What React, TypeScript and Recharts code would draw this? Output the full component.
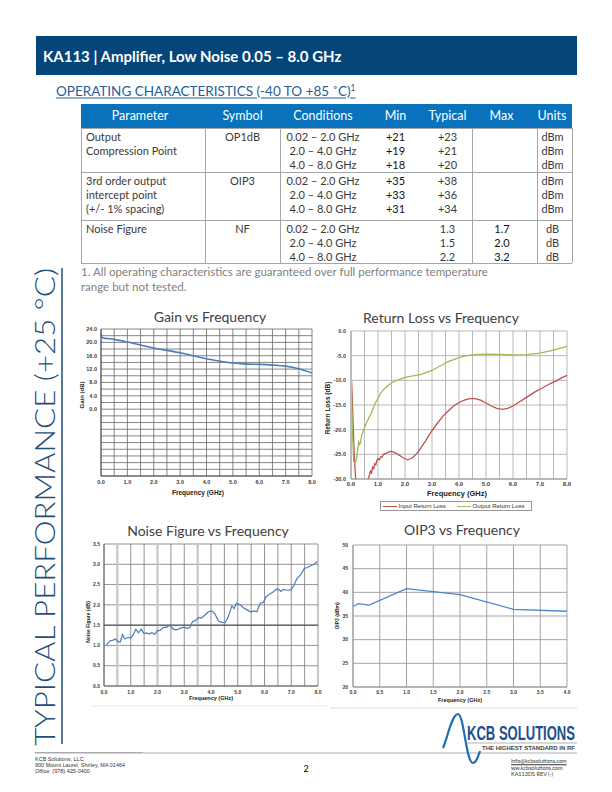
import React from 'react';
import { LineChart, Line, XAxis, YAxis, CartesianGrid, ReferenceLine } from 'recharts';

// ---------- Table data ----------
const tableHeaders = ['Parameter', 'Symbol', 'Conditions', 'Min', 'Typical', 'Max', 'Units'];
const paramNames = [['Output', 'Compression Point'], ['3rd order output', 'intercept point', '(+/- 1% spacing)'], ['Noise Figure']];
const paramSymbols = ['OP1dB', 'OIP3', 'NF'];
const conditions = ['0.02 – 2.0 GHz', '2.0 – 4.0 GHz', '4.0 – 8.0 GHz'];
const minVals = [['+21', '+19', '+18'], ['+35', '+33', '+31'], ['', '', '']];
const typVals = [['+23', '+21', '+20'], ['+38', '+36', '+34'], ['1.3', '1.5', '2.2']];
const maxVals = [['', '', ''], ['', '', ''], ['1.7', '2.0', '3.2']];
const unitVals = [['dBm', 'dBm', 'dBm'], ['dBm', 'dBm', 'dBm'], ['dB', 'dB', 'dB']];

// ---------- Gain ----------
const gainFreq = [0, 0.05, 0.5, 1.0, 1.5, 2.0, 2.5, 3.0, 3.5, 4.0, 4.5, 5.0, 5.5, 6.0, 6.5, 7.0, 7.5, 8.0];
const gainDb = [22.6, 21.4, 20.9, 20.1, 19.2, 18.3, 17.6, 16.9, 16.0, 15.1, 14.4, 13.8, 13.5, 13.4, 13.2, 12.9, 12.1, 10.8];
const gainYTicks = [-20, -18, -16, -14, -12, -10, -8, -6, -4, -2, 0, 2, 4, 6, 8, 10, 12, 14, 16, 18, 20, 22, 24];
const freqTicks8 = [0, 0.5, 1, 1.5, 2, 2.5, 3, 3.5, 4, 4.5, 5, 5.5, 6, 6.5, 7, 7.5, 8];

// ---------- Return loss ----------
const rlInFreq = [0.02, 0.05, 0.08, 0.12, 0.16, 0.2, 0.3, 0.45, 0.58, 0.64, 0.68, 0.72, 0.76, 0.8, 0.84, 0.88, 0.92, 0.96, 1.0, 1.05, 1.1, 1.15, 1.2, 1.3, 1.4, 1.5, 1.6, 1.7, 1.8, 1.9, 2.0, 2.1, 2.2, 2.3, 2.4, 2.5, 2.6, 2.7, 2.8, 2.9, 3.0, 3.2, 3.4, 3.6, 3.8, 4.0, 4.2, 4.4, 4.6, 4.8, 5.0, 5.2, 5.4, 5.6, 5.8, 6.0, 6.2, 6.4, 6.6, 6.8, 7.0, 7.2, 7.4, 7.6, 7.8, 8.0];
const rlInDb = [-10, -14, -19, -25, -29, -31.5, -36, -38, -32, -30, -29.2, -28.4, -28.8, -27.6, -27.9, -26.9, -27.1, -26.2, -25.9, -26.1, -25.5, -25.6, -25.0, -24.8, -24.5, -24.4, -24.6, -24.9, -25.2, -25.6, -25.9, -26.1, -25.9, -25.6, -25.0, -24.4, -23.6, -22.8, -21.9, -21.0, -20.2, -18.7, -17.3, -16.2, -15.2, -14.5, -14.0, -13.7, -13.7, -14.0, -14.6, -15.2, -15.7, -15.9, -15.7, -15.2, -14.5, -13.8, -13.1, -12.4, -11.8, -11.2, -10.6, -10.1, -9.5, -9.0];
const rlOutFreq = [0.02, 0.05, 0.1, 0.15, 0.2, 0.25, 0.28, 0.32, 0.36, 0.4, 0.45, 0.5, 0.6, 0.7, 0.8, 0.9, 1.0, 1.1, 1.2, 1.4, 1.6, 1.8, 2.0, 2.2, 2.4, 2.6, 2.8, 3.0, 3.2, 3.4, 3.6, 3.8, 4.0, 4.2, 4.4, 4.6, 4.8, 5.0, 5.5, 6.0, 6.5, 7.0, 7.5, 8.0];
const rlOutDb = [-13, -20, -26.5, -26.8, -26.0, -24, -22.5, -23, -22.4, -21, -20.4, -19.6, -18.3, -17.2, -16.0, -14.6, -13.6, -12.6, -11.9, -10.9, -10.2, -9.8, -9.4, -9.2, -9.0, -8.8, -8.4, -8.0, -7.4, -6.8, -6.2, -5.8, -5.4, -5.1, -4.9, -4.8, -4.75, -4.7, -4.75, -4.85, -4.8, -4.5, -3.9, -3.1];
const rlYTicks = [-30, -25, -20, -15, -10, -5, 0];

// ---------- Noise figure ----------
const nfFreq = [0.09, 0.21, 0.34, 0.43, 0.53, 0.61, 0.69, 0.78, 0.9, 1.0, 1.09, 1.19, 1.29, 1.39, 1.49, 1.59, 1.69, 1.79, 1.89, 1.99, 2.09, 2.21, 2.34, 2.46, 2.56, 2.69, 2.84, 2.99, 3.11, 3.21, 3.31, 3.41, 3.53, 3.63, 3.78, 3.9, 4.03, 4.15, 4.28, 4.4, 4.53, 4.65, 4.78, 4.86, 4.96, 5.09, 5.21, 5.36, 5.49, 5.61, 5.71, 5.84, 5.96, 6.06, 6.19, 6.31, 6.46, 6.55, 6.61, 6.71, 6.84, 6.99, 7.11, 7.21, 7.36, 7.49, 7.61, 7.74, 7.86, 7.96];
const nfDb = [1.01, 1.11, 1.13, 1.16, 1.09, 1.09, 1.27, 1.16, 1.2, 1.18, 1.26, 1.4, 1.31, 1.4, 1.29, 1.31, 1.28, 1.32, 1.27, 1.36, 1.37, 1.44, 1.45, 1.5, 1.42, 1.38, 1.42, 1.45, 1.42, 1.44, 1.59, 1.61, 1.69, 1.67, 1.75, 1.83, 1.85, 1.77, 1.6, 1.57, 1.56, 1.71, 1.98, 1.91, 2.04, 2.0, 1.93, 1.87, 1.83, 1.85, 1.83, 2.04, 2.06, 2.2, 2.27, 2.31, 2.39, 2.37, 2.33, 2.38, 2.36, 2.37, 2.49, 2.65, 2.75, 2.9, 2.92, 2.97, 3.0, 3.07];
const nfYTicks = [0, 0.5, 1.0, 1.5, 2.0, 2.5, 3.0, 3.5];

// ---------- OIP3 ----------
const oipFreq = [0, 0.1, 0.3, 1.0, 2.0, 3.0, 4.0];
const oipDbm = [37.0, 37.6, 37.3, 40.8, 39.5, 36.4, 36.0];
const oipXTicks = [0, 0.5, 1, 1.5, 2, 2.5, 3, 3.5, 4];
const oipYTicks = [20, 25, 30, 35, 40, 45, 50];

const zip = (xs: number[], ys: number[]) => xs.slice(0, Math.min(xs.length, ys.length)).map((f, i) => ({ f, v: ys[i] }));
const gainData = zip(gainFreq, gainDb);
const rlInData = zip(rlInFreq, rlInDb);
const rlOutData = zip(rlOutFreq, rlOutDb);
const nfData = zip(nfFreq, nfDb);
const oipData = zip(oipFreq, oipDbm);

const ARIAL = '"Liberation Sans", Arial, sans-serif';
const CAL = 'Lato, "Open Sans", sans-serif';
const tick = (size: number) => ({ fontSize: size, fontWeight: 700, fill: '#404040', fontFamily: ARIAL });
const intLabel = (v: number) => (Math.abs(v - Math.round(v)) < 1e-9 ? v.toFixed(1) : '');

const C = ({ x, y, children, style, rot }: any) => (
  <div style={{ position: 'absolute', left: x, top: y, transform: `translate(-50%,-50%)${rot ? ' rotate(-90deg)' : ''}`, whiteSpace: 'nowrap', lineHeight: 1, ...style }}>{children}</div>
);
const L = ({ x, y, children, style }: any) => (
  <div style={{ position: 'absolute', left: x, top: y, transform: 'translateY(-50%)', whiteSpace: 'nowrap', lineHeight: 1, ...style }}>{children}</div>
);

function Table() {
  const groupTops = [128, 172, 220];
  const headerCenters = [140, 242.5, 323, 395.5, 447.5, 501.5, 552];
  const vLines = [81, 205, 280, 472, 537, 572];
  const hLines = [128, 172, 220, 263];
  const cellStyle = { fontFamily: CAL, fontSize: 11, color: '#3a3a3a' };
  const dark = { fontFamily: CAL, fontSize: 11, color: '#111' };
  const cols: { c: number; vals: string[][]; st: any }[] = [
    { c: 323, vals: [conditions, conditions, conditions], st: cellStyle },
    { c: 395.5, vals: minVals, st: dark },
    { c: 447.5, vals: typVals, st: cellStyle },
    { c: 502, vals: maxVals, st: dark },
    { c: 552.5, vals: unitVals, st: cellStyle },
  ];
  const lineY = (g: number, i: number) => groupTops[g] + 7.6 + i * 14.3;
  return (
    <>
      <div style={{ position: 'absolute', left: 81, top: 104, width: 491, height: 24, background: '#0872bd' }} />
      {tableHeaders.map((h, i) => (
        <C key={h} x={headerCenters[i]} y={116} style={{ fontFamily: CAL, fontSize: 12.5, color: '#fff' }}>{h}</C>
      ))}
      {vLines.map((x) => (
        <div key={x} style={{ position: 'absolute', left: x - 0.5, top: 128, width: 1, height: 135, background: '#a6a6a6' }} />
      ))}
      {hLines.map((y) => (
        <div key={y} style={{ position: 'absolute', left: 81, top: y - 0.5, width: 491, height: 1, background: '#a6a6a6' }} />
      ))}
      {paramNames.map((lines, g) =>
        lines.map((t, i) => (
          <L key={g + '-' + i} x={86} y={lineY(g, i)} style={cellStyle}>{t}</L>
        ))
      )}
      {paramSymbols.map((s, g) => (
        <C key={s} x={242.5} y={lineY(g, 0)} style={cellStyle}>{s}</C>
      ))}
      {cols.map((col, ci) =>
        col.vals.map((grp, g) =>
          grp.map((t, i) => (t ? <C key={ci + '-' + g + '-' + i} x={col.c} y={lineY(g, i)} style={col.st}>{t}</C> : null))
        )
      )}
    </>
  );
}

export default function App() {
  return (
    <div style={{ position: 'absolute', left: 0, top: 0, width: 612, height: 792, background: '#fff', overflow: 'hidden', fontFamily: CAL }}>
      {/* Header bar */}
      <div style={{ position: 'absolute', left: 36, top: 36, width: 541, height: 39, background: '#04457a' }} />
      <L x={43} y={55.5} style={{ color: '#fff', fontWeight: 700, fontSize: 15, fontFamily: CAL }}>KA113 | Amplifier, Low Noise 0.05 – 8.0 GHz</L>
      <L x={56} y={91} style={{ color: '#1f5e99', fontSize: 13.5, textDecoration: 'underline', fontFamily: CAL }}>
        OPERATING CHARACTERISTICS (-40 TO +85 ˚C)<sup style={{ fontSize: 8.5 }}>1</sup>
      </L>

      <Table />

      <L x={81} y={272} style={{ color: '#7f7f7f', fontSize: 11.5 }}>1. All operating characteristics are guaranteed over full performance temperature</L>
      <L x={81} y={287} style={{ color: '#7f7f7f', fontSize: 11.5 }}>range but not tested.</L>

      {/* Vertical side title */}
      <svg style={{ position: 'absolute', left: 0, top: 0 }} width={612} height={792}>
        <text transform="translate(55,746) rotate(-90)" fontFamily={CAL} fontWeight={300} fontSize={28} fill="#1f4e79" textLength={478} lengthAdjust="spacingAndGlyphs">
          TYPICAL PERFORMANCE (+25 °C)
        </text>
        <line x1={62} y1={268} x2={62} y2={744} stroke="#1f4e79" strokeWidth={1.5} />
        {/* faint chart frames */}
        <line x1={92} y1={706} x2={328} y2={706} stroke="#e6e6e6" strokeWidth={1} />
        <line x1={330} y1={708} x2={577} y2={708} stroke="#d9d9d9" strokeWidth={1} />
        {/* footer rule */}
        <line x1={35} y1={753} x2={577} y2={753} stroke="#c8c8c8" strokeWidth={1.6} />
        <line x1={35} y1={752.5} x2={143} y2={752.5} stroke="#a0a0a0" strokeWidth={0.8} />
        {/* logo */}
        <path d="M443,748 C448,736 452,714 458,714 C464,714 466,763 473,763 C476,763 478,757 480,751" stroke="#1f6fb5" strokeWidth={2.2} fill="none" />
        <text transform="translate(467,740) scale(1,1.42)" fontFamily={ARIAL} fontWeight={700} fontSize={14.2} fill="#1c4f8c" textLength={108} lengthAdjust="spacingAndGlyphs">KCB SOLUTIONS</text>
        <line x1={467} y1={743} x2={577} y2={743} stroke="#a0a0a0" strokeWidth={0.8} />
        <text x={482} y={750} fontFamily={ARIAL} fontWeight={700} fontSize={6.2} fill="#444" textLength={93} lengthAdjust="spacingAndGlyphs">THE HIGHEST STANDARD IN RF</text>
      </svg>

      {/* Footer text */}
      <L x={35} y={760} style={{ fontSize: 5.5, fontFamily: ARIAL, color: '#333' }}>KCB Solutions, LLC</L>
      <L x={35} y={766} style={{ fontSize: 5.5, fontFamily: ARIAL, color: '#333' }}>900 Mount Laurel, Shirley, MA 01464</L>
      <L x={35} y={772} style={{ fontSize: 5.5, fontFamily: ARIAL, color: '#333' }}>Office: (978) 425-0400</L>
      <C x={306} y={768} style={{ fontSize: 9, color: '#000' }}>2</C>
      <L x={511} y={762} style={{ fontSize: 5.5, color: '#333', textDecoration: 'underline' }}>info@kcbsolutions.com</L>
      <L x={511} y={768.5} style={{ fontSize: 5.5, color: '#333' }}>ww.kcbsolutions.com</L>
      <L x={511} y={775} style={{ fontSize: 5.5, color: '#333' }}>KA113DS REV (-)</L>

      {/* ---------- Gain chart ---------- */}
      <C x={210} y={317} style={{ fontSize: 14, color: '#404040' }}>Gain vs Frequency</C>
      <div style={{ position: 'absolute', left: 80, top: 322 }}>
        <LineChart width={245} height={180} margin={{ top: 7, right: 13, bottom: 0, left: 0 }}>
          <CartesianGrid stroke="#666" strokeWidth={0.8} />
          <XAxis type="number" dataKey="f" domain={[0, 8]} ticks={freqTicks8} interval={0} tickFormatter={intLabel} tickLine={false} tickSize={0} tickMargin={4} axisLine={{ stroke: '#555' }} height={26} tick={tick(5.5)} />
          <YAxis type="number" domain={[-20, 24]} ticks={gainYTicks} interval={0} allowDataOverflow tickFormatter={(v: number) => (v >= 0 && v % 4 === 0 ? v.toFixed(1) : '')} tickLine={false} tickSize={0} tickMargin={4} axisLine={{ stroke: '#555' }} width={21} tick={tick(5.5)} />
          <Line data={gainData} dataKey="v" type="monotone" stroke="#4a7ebb" strokeWidth={1.6} dot={false} activeDot={false} isAnimationActive={false} />
        </LineChart>
      </div>
      <C x={198} y={493} style={{ fontSize: 6.5, fontWeight: 700, fontFamily: ARIAL, color: '#222' }}>Frequency (GHz)</C>
      <C x={82} y={395} rot style={{ fontSize: 6, fontWeight: 700, fontFamily: ARIAL, color: '#222' }}>Gain (dB)</C>

      {/* ---------- Return loss chart ---------- */}
      <C x={441} y={318} style={{ fontSize: 14, color: '#404040' }}>Return Loss vs Frequency</C>
      <div style={{ position: 'absolute', left: 320, top: 324 }}>
        <LineChart width={255} height={170} margin={{ top: 7, right: 8, bottom: 0, left: 0 }}>
          <CartesianGrid stroke="#a6a6a6" strokeWidth={0.8} />
          <XAxis type="number" dataKey="f" domain={[0, 8]} ticks={freqTicks8} interval={0} tickFormatter={intLabel} tickLine={false} tickSize={0} tickMargin={3} axisLine={{ stroke: '#999' }} height={15} tick={tick(6)} />
          <YAxis type="number" domain={[-30, 0]} ticks={rlYTicks} interval={0} allowDataOverflow tickFormatter={(v: number) => v.toFixed(1)} tickLine={false} tickSize={0} tickMargin={5} axisLine={{ stroke: '#bbb', strokeWidth: 2 }} width={31} tick={tick(5.5)} />
          <Line data={rlInData} dataKey="v" type="linear" stroke="#c0504d" strokeWidth={1.3} dot={false} activeDot={false} isAnimationActive={false} />
          <Line data={rlOutData} dataKey="v" type="linear" stroke="#9bbb59" strokeWidth={1.3} dot={false} activeDot={false} isAnimationActive={false} />
        </LineChart>
      </div>
      <C x={457} y={493.5} style={{ fontSize: 7.5, fontWeight: 700, fontFamily: ARIAL, color: '#222' }}>Frequency (GHz)</C>
      <C x={328} y={408} rot style={{ fontSize: 6.5, fontWeight: 700, fontFamily: ARIAL, color: '#222' }}>Return Loss (dB)</C>
      <div style={{ position: 'absolute', left: 380, top: 501, width: 152, height: 10, border: '0.8px solid #999', boxSizing: 'border-box' }} />
      <div style={{ position: 'absolute', left: 383, top: 505.5, width: 14, height: 1.5, background: '#c0504d' }} />
      <L x={398.5} y={506.3} style={{ fontSize: 6, fontFamily: ARIAL, color: '#333' }}>Input Return Loss</L>
      <div style={{ position: 'absolute', left: 457, top: 505.5, width: 14, height: 1.5, background: '#9bbb59' }} />
      <L x={472.5} y={506.3} style={{ fontSize: 6, fontFamily: ARIAL, color: '#333' }}>Output Return Loss</L>

      {/* ---------- Noise figure chart ---------- */}
      <C x={208} y={531} style={{ fontSize: 14, color: '#404040' }}>Noise Figure vs Frequency</C>
      <div style={{ position: 'absolute', left: 84, top: 538 }}>
        <LineChart width={240} height={160} margin={{ top: 6, right: 6, bottom: 0, left: 0 }}>
          <CartesianGrid stroke="#777" strokeWidth={0.8} />
          <ReferenceLine x={0.5} stroke="#c8c8c8" strokeWidth={2.2} />
          <ReferenceLine x={2} stroke="#c8c8c8" strokeWidth={2.2} />
          <ReferenceLine x={3.5} stroke="#c8c8c8" strokeWidth={2.2} />
          <ReferenceLine y={1.5} stroke="#444" strokeWidth={1} />
          <XAxis type="number" dataKey="f" domain={[0, 8]} ticks={freqTicks8} interval={0} tickFormatter={intLabel} tickLine={false} tickSize={0} tickMargin={4} axisLine={{ stroke: '#666' }} height={12} tick={tick(5)} />
          <YAxis type="number" domain={[0, 3.5]} ticks={nfYTicks} interval={0} tickFormatter={(v: number) => v.toFixed(1)} tickLine={false} tickSize={0} tickMargin={4} axisLine={{ stroke: '#666' }} width={20} tick={tick(5)} />
          <Line data={nfData} dataKey="v" type="linear" stroke="#4a7ebb" strokeWidth={1.2} dot={false} activeDot={false} isAnimationActive={false} />
        </LineChart>
      </div>
      <C x={211} y={699} style={{ fontSize: 5.5, fontWeight: 700, fontFamily: ARIAL, color: '#222' }}>Frequency (GHz)</C>
      <C x={88} y={622} rot style={{ fontSize: 5, fontWeight: 700, fontFamily: ARIAL, color: '#222' }}>Noise Figure (dB)</C>

      {/* ---------- OIP3 chart ---------- */}
      <C x={462} y={530} style={{ fontSize: 14, color: '#404040' }}>OIP3 vs Frequency</C>
      <div style={{ position: 'absolute', left: 330, top: 538 }}>
        <LineChart width={245} height={160} margin={{ top: 7, right: 8, bottom: 0, left: 0 }}>
          <CartesianGrid stroke="#9a9a9a" strokeWidth={0.9} />
          <XAxis type="number" dataKey="f" domain={[0, 4]} ticks={oipXTicks} interval={0} tickFormatter={(v: number) => v.toFixed(1)} tickLine={false} tickSize={0} tickMargin={3} axisLine={{ stroke: '#999' }} height={11} tick={tick(5)} />
          <YAxis type="number" domain={[20, 50]} ticks={oipYTicks} interval={0} tickFormatter={(v: number) => String(v)} tickLine={false} tickSize={0} tickMargin={5} axisLine={{ stroke: '#999' }} width={23} tick={tick(5)} />
          <Line data={oipData} dataKey="v" type="linear" stroke="#4f86c6" strokeWidth={1.3} dot={false} activeDot={false} isAnimationActive={false} />
        </LineChart>
      </div>
      <C x={460} y={701} style={{ fontSize: 5.5, fontWeight: 700, fontFamily: ARIAL, color: '#222' }}>Frequency (GHz)</C>
      <C x={337} y={616} rot style={{ fontSize: 5, fontWeight: 700, fontFamily: ARIAL, color: '#222' }}>OIP3 (dBm)</C>
    </div>
  );
}
